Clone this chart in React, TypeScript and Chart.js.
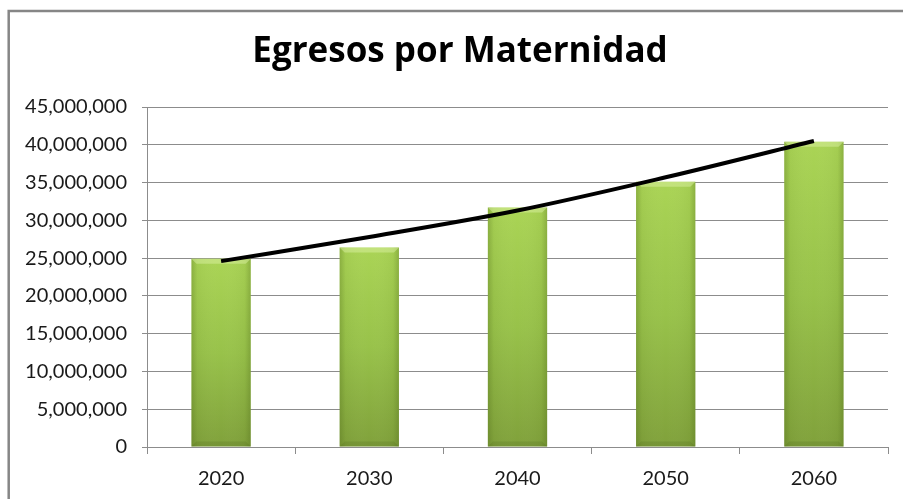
import React, { useEffect, useRef } from "react";
import { Chart, registerables } from "chart.js";

Chart.register(...registerables);

const TITLE = "Egresos por Maternidad";
const categories = ["2020", "2030", "2040", "2050", "2060"];
const egresos = [24900000, 26400000, 31700000, 35100000, 40400000];
const trend = [24600000, 27800000, 31300000, 35700000, 40500000];
const yMin = 0;
const yMax = 45000000;
const yStep = 5000000;

const FONT = "Lato, 'Open Sans', sans-serif";
const TITLE_FONT = "'Open Sans', Lato, sans-serif";
const GRID = "#8c8c8c";
const BAR_INDEX = 1;

const frame = {
  id: "frame",
  beforeDraw(chart: any) {
    const c = chart.ctx;
    c.save();
    c.fillStyle = "#ffffff";
    c.fillRect(0, 0, chart.width, chart.height);
    c.restore();
  },
  afterDraw(chart: any) {
    const c = chart.ctx;
    c.save();
    c.strokeStyle = "#868686";
    c.lineWidth = 2.5;
    c.beginPath();
    c.moveTo(8.7, chart.height + 5);
    c.lineTo(8.7, 11);
    c.lineTo(chart.width + 5, 11);
    c.stroke();
    c.restore();
  },
  afterLayout(chart: any) {
    const tb = chart.titleBlock;
    if (tb) {
      tb.left = 0;
      tb.right = 920;
    }
  },
};

const barShade = {
  id: "barShade",
  afterDatasetDraw(chart: any, args: any) {
    if (args.index !== BAR_INDEX) return;
    const c = chart.ctx;
    const meta = chart.getDatasetMeta(BAR_INDEX);
    c.save();
    meta.data.forEach((bar: any) => {
      const x = bar.x, y = bar.y, base = bar.base, width = bar.width;
      if (![x, y, base, width].every((v) => isFinite(v))) return;
      const l = x - width / 2;
      const r = x + width / 2;
      const h = base - y;
      const g = c.createLinearGradient(l, 0, r, 0);
      g.addColorStop(0, "rgba(70,95,20,0.30)");
      g.addColorStop(0.1, "rgba(70,95,20,0.06)");
      g.addColorStop(0.5, "rgba(255,255,255,0.0)");
      g.addColorStop(0.9, "rgba(70,95,20,0.06)");
      g.addColorStop(1, "rgba(70,95,20,0.30)");
      c.fillStyle = g;
      c.fillRect(l, y, width, h);
      const b = 5;
      c.beginPath();
      c.moveTo(l, y);
      c.lineTo(r, y);
      c.lineTo(r - b, y + b);
      c.lineTo(l + b, y + b);
      c.closePath();
      c.fillStyle = "rgba(225,245,170,0.45)";
      c.fill();
      c.beginPath();
      c.moveTo(l, base);
      c.lineTo(r, base);
      c.lineTo(r - b, base - b);
      c.lineTo(l + b, base - b);
      c.closePath();
      c.fillStyle = "rgba(60,80,20,0.15)";
      c.fill();
    });
    c.restore();
  },
};

export default function App() {
  const ref = useRef<HTMLCanvasElement | null>(null);

  useEffect(() => {
    if (!ref.current) return;
    const chart = new Chart(ref.current, {
      type: "bar",
      data: {
        labels: categories,
        datasets: [
          {
            type: "line",
            label: "Tendencia",
            data: trend,
            borderColor: "#000000",
            borderWidth: 4,
            pointRadius: 0,
            cubicInterpolationMode: "monotone",
            fill: false,
            order: 0,
          } as any,
          {
            type: "bar",
            label: "Egresos",
            data: egresos,
            barPercentage: 0.4,
            categoryPercentage: 1,
            borderWidth: 0,
            order: 1,
            backgroundColor: (ctx: any) => {
              const chart = ctx.chart;
              const { chartArea, scales } = chart;
              if (!chartArea || ctx.type !== "data" || !scales.y) return "#9bc449";
              const top = scales.y.getPixelForValue(ctx.raw);
              const base = scales.y.getPixelForValue(0);
              if (!isFinite(top) || !isFinite(base) || base - top < 1) return "#9bc449";
              const g = chart.ctx.createLinearGradient(0, top, 0, base);
              g.addColorStop(0, "#aad455");
              g.addColorStop(0.5, "#98c24a");
              g.addColorStop(1, "#80a13b");
              return g;
            },
          } as any,
        ],
      },
      options: {
        responsive: false,
        animation: false,
        devicePixelRatio: 1,
        layout: { padding: { left: 0, right: 15, top: 0, bottom: 0 } },
        plugins: {
          legend: { display: false },
          tooltip: { enabled: false },
          title: {
            display: true,
            text: TITLE,
            color: "#000000",
            font: { family: TITLE_FONT, size: 35, weight: "bold", lineHeight: 1.2 },
            padding: { top: 31.5, bottom: 33.5 },
          },
        },
        scales: {
          x: {
            offset: true,
            grid: {
              offset: true,
              drawOnChartArea: false,
              drawTicks: true,
              tickLength: 7,
              color: GRID,
            },
            border: { display: true, color: GRID, width: 1 },
            ticks: {
              color: "#1a1a1a",
              font: { family: FONT, size: 20 },
              padding: 13,
              maxRotation: 0,
            },
            afterFit: (scale: any) => {
              scale.height = 52;
            },
          },
          y: {
            min: yMin,
            max: yMax,
            grid: {
              color: GRID,
              drawTicks: true,
              tickLength: 5,
            },
            border: { display: true, color: GRID, width: 1 },
            ticks: {
              stepSize: yStep,
              color: "#1a1a1a",
              font: { family: FONT, size: 20 },
              padding: 15,
              callback: (v: any) => Number(v).toLocaleString("en-US"),
            },
            afterFit: (scale: any) => {
              scale.width = 147;
            },
          },
        },
      },
      plugins: [frame, barShade],
    });
    return () => chart.destroy();
  }, []);

  return (
    <div style={{ position: "fixed", left: 0, top: 0, width: 903, height: 499 }}>
      <canvas ref={ref} width={903} height={499} style={{ display: "block" }} />
    </div>
  );
}
